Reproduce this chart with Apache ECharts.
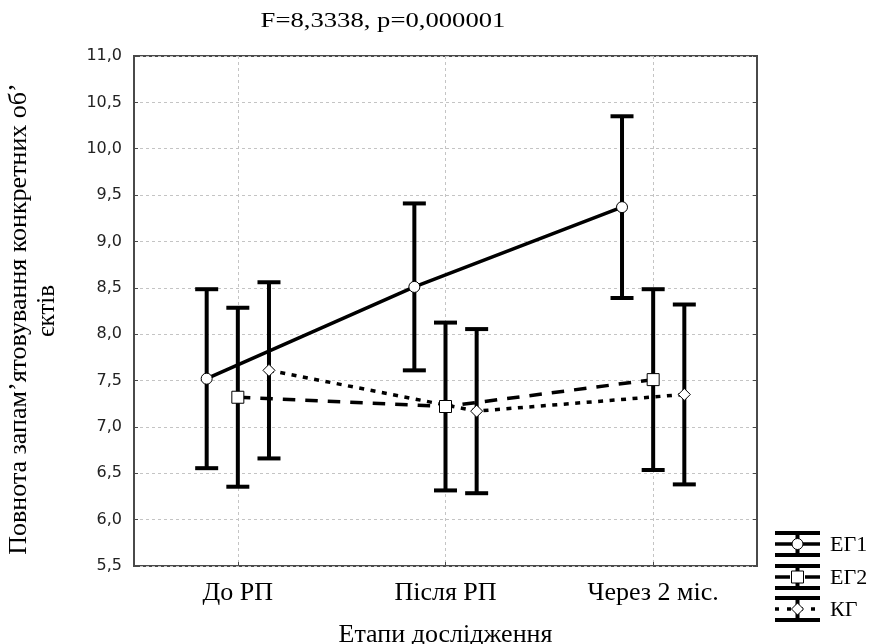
<!DOCTYPE html>
<html>
<head>
<meta charset="utf-8">
<script src="https://cdn.jsdelivr.net/npm/echarts@6/dist/echarts.min.js"></script>
<style>
  html, body { margin: 0; padding: 0; background: #fff; }
  #chart { width: 876px; height: 644px; }
</style>
</head>
<body>
<div id="chart"></div>
<script>
// Study stages (categories) and group names
const stages = ['До РП', 'Після РП', 'Через 2 міс.'];
const groupNames = ['ЕГ1', 'ЕГ2', 'КГ'];

// Group means and half-widths of the error bars
const eg1Mean = [7.52, 8.51, 9.37];
const eg1Err  = [0.965, 0.90, 0.98];
const eg2Mean = [7.32, 7.22, 7.51];
const eg2Err  = [0.965, 0.905, 0.975];
const kgMean  = [7.61, 7.17, 7.35];
const kgErr   = [0.95, 0.885, 0.97];

// Value axis range
const yMin = 5.5, yMax = 11.0, yStep = 0.5;

const titleText = 'F=8,3338, p=0,000001';
const xName = 'Етапи дослідження';
const yNameLine1 = 'Повнота запам\u2019ятовування конкретних об\u2019';
const yNameLine2 = 'єктів';

// Presentation of each group: horizontal shift within a stage, line dash, marker
const groupStyle = [
  { shift: -0.15, dash: 'solid',    symbol: 'circle',  size: 11 },
  { shift: 0,     dash: [12.5, 10], symbol: 'rect',    size: 12 },
  { shift: 0.15,  dash: [5, 6.5],   symbol: 'diamond', size: 12 }
];
const means = [eg1Mean, eg2Mean, kgMean];
const errs  = [eg1Err, eg2Err, kgErr];

const serif = '"Liberation Serif", "Times New Roman", serif';
const sans = '"DejaVu Sans", "Liberation Sans", Arial, sans-serif';

const chart = echarts.init(document.getElementById('chart'), null, { renderer: 'canvas' });

function renderErrorBar(params, api) {
  const x = api.value(0);
  const lo = api.coord([x, api.value(1)]);
  const hi = api.coord([x, api.value(2)]);
  const hw = 11.5;
  const style = { stroke: '#000', lineWidth: 4 };
  return {
    type: 'group',
    children: [
      { type: 'line', shape: { x1: lo[0], y1: lo[1], x2: hi[0], y2: hi[1] }, style },
      { type: 'line', shape: { x1: hi[0] - hw, y1: hi[1], x2: hi[0] + hw, y2: hi[1] }, style },
      { type: 'line', shape: { x1: lo[0] - hw, y1: lo[1], x2: lo[0] + hw, y2: lo[1] }, style }
    ]
  };
}

const series = [];
groupNames.forEach((name, g) => {
  const st = groupStyle[g];
  series.push({
    name: name + ' err',
    type: 'custom',
    xAxisIndex: 0,
    yAxisIndex: 0,
    renderItem: renderErrorBar,
    encode: { x: 0, y: [1, 2] },
    data: means[g].map((m, i) => [i + 1 + st.shift, m - errs[g][i], m + errs[g][i]]),
    z: 2,
    silent: true
  });
  series.push({
    name: name,
    type: 'line',
    xAxisIndex: 0,
    yAxisIndex: 0,
    data: means[g].map((m, i) => [i + 1 + st.shift, m]),
    symbol: st.symbol,
    symbolSize: st.size,
    showAllSymbol: true,
    lineStyle: { color: '#000', width: 3.5, type: st.dash, cap: 'butt' },
    itemStyle: { color: '#fff', borderColor: '#000', borderWidth: 1 },
    z: 3,
    silent: true
  });
});

// Legend: small error-bar glyphs with the group labels
const legendRows = [544, 577, 609];
const legendX0 = 775, legendX1 = 820, legendXc = 797.5;
const legendGraphics = [];
groupNames.forEach((name, g) => {
  const cy = legendRows[g];
  const st = groupStyle[g];
  const bar = { stroke: '#000', lineWidth: 4 };
  legendGraphics.push(
    { type: 'line', shape: { x1: legendX0, y1: cy - 11, x2: legendX1, y2: cy - 11 }, style: bar },
    { type: 'line', shape: { x1: legendX0, y1: cy + 11, x2: legendX1, y2: cy + 11 }, style: bar },
    { type: 'line', shape: { x1: legendXc, y1: cy - 11, x2: legendXc, y2: cy + 11 }, style: bar }
  );
  const mid = { stroke: '#000', lineWidth: 3.5 };
  if (g === 0) {
    legendGraphics.push({ type: 'line', shape: { x1: legendX0, y1: cy, x2: legendX1, y2: cy }, style: mid });
  } else if (g === 1) {
    legendGraphics.push(
      { type: 'line', shape: { x1: legendX0, y1: cy, x2: legendX0 + 15, y2: cy }, style: mid },
      { type: 'line', shape: { x1: legendX1 - 15, y1: cy, x2: legendX1, y2: cy }, style: mid }
    );
  } else {
    legendGraphics.push({ type: 'line', shape: { x1: legendX0, y1: cy, x2: legendX1, y2: cy },
      style: Object.assign({ lineDash: [4, 8] }, mid) });
  }
  let marker;
  if (st.symbol === 'circle') {
    marker = { type: 'circle', shape: { cx: legendXc, cy: cy, r: 5.5 } };
  } else if (st.symbol === 'rect') {
    marker = { type: 'rect', shape: { x: legendXc - 6, y: cy - 6, width: 12, height: 12 } };
  } else {
    marker = { type: 'polygon', shape: { points: [[legendXc, cy - 6], [legendXc + 6, cy], [legendXc, cy + 6], [legendXc - 6, cy]] } };
  }
  marker.style = { fill: '#fff', stroke: '#000', lineWidth: 1 };
  legendGraphics.push(marker);
  legendGraphics.push({
    type: 'text', x: 830, y: cy + 1, style: {
      text: name, fill: '#000', font: '22px ' + serif, verticalAlign: 'middle', align: 'left'
    }
  });
});

// Heading with the test statistic
legendGraphics.push({
  type: 'text', x: 383, y: 22, scaleX: 1.3,
  style: { text: titleText, fill: '#000', font: '20.5px ' + serif, align: 'center', verticalAlign: 'middle' }
});

const option = {
  animation: false,
  backgroundColor: '#fff',
  grid: {
    left: 134, top: 56, width: 623, height: 510,
    containLabel: false, outerBoundsMode: 'none',
    show: true, borderColor: '#4a4a4a', borderWidth: 2, backgroundColor: 'transparent'
  },
  xAxis: [
    {
      type: 'value', min: 0.5, max: 3.5, interval: 0.5,
      axisLine: { show: false }, axisTick: { show: false }, axisLabel: { show: false },
      splitLine: { show: true, lineStyle: { color: ['rgba(0,0,0,0)', '#c4c4c4'], type: [3, 3], width: 1 } }
    },
    {
      type: 'category', data: stages, position: 'bottom', boundaryGap: true,
      axisLine: { show: false },
      axisTick: { show: true, alignWithLabel: true, inside: true, length: 4, lineStyle: { color: '#4a4a4a', width: 1 } },
      axisLabel: { show: true, margin: 14, fontFamily: serif, fontSize: 26, color: '#000' },
      splitLine: { show: false },
      name: xName, nameLocation: 'middle', nameGap: 56,
      nameTextStyle: { fontFamily: serif, fontSize: 26, color: '#000' }
    }
  ],
  yAxis: [
    {
      type: 'value', min: yMin, max: yMax, interval: yStep, position: 'left',
      axisLine: { show: false },
      axisTick: { show: true, inside: true, length: 4, lineStyle: { color: '#4a4a4a' } },
      axisLabel: {
        margin: 12, fontFamily: sans, fontSize: 16, color: '#222',
        formatter: v => v.toFixed(1).replace('.', ',')
      },
      splitLine: { show: true, lineStyle: { color: '#c4c4c4', type: [3, 3], width: 1 } },
      name: '{a|' + yNameLine1 + '}\n{b|' + yNameLine2 + '}',
      nameLocation: 'middle', nameRotate: 90, nameGap: 73,
      nameTextStyle: {
        color: '#000', align: 'center',
        rich: {
          a: { fontFamily: serif, fontSize: 26, lineHeight: 28, color: '#000', padding: [0, 16, 0, 0] },
          b: { fontFamily: serif, fontSize: 25, lineHeight: 28, color: '#000' }
        }
      }
    },
    {
      type: 'value', min: yMin, max: yMax, interval: yStep, position: 'right',
      axisLine: { show: false },
      axisTick: { show: true, inside: true, length: 4, lineStyle: { color: '#4a4a4a' } },
      axisLabel: { show: false },
      splitLine: { show: false }
    }
  ],
  graphic: legendGraphics,
  series: series
};

chart.setOption(option);
</script>
</body>
</html>
